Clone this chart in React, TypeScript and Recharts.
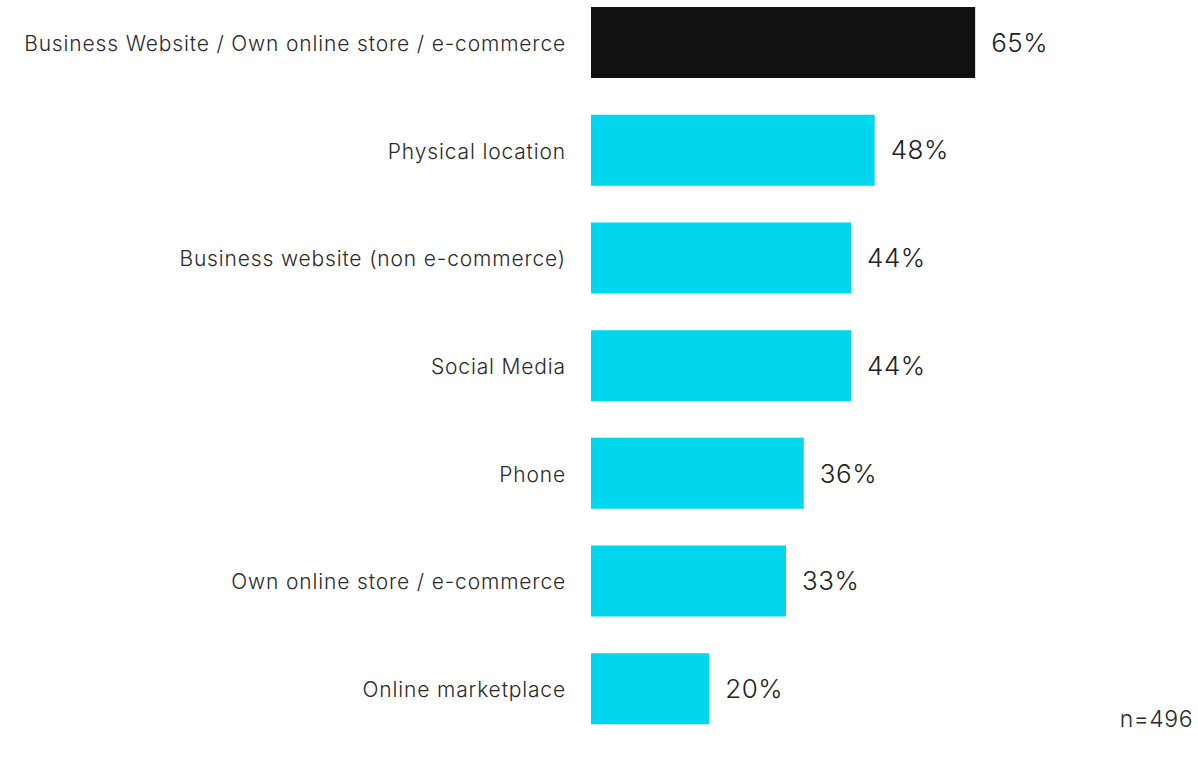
import React from 'react';
import { BarChart, Bar, XAxis, YAxis, Cell, LabelList } from 'recharts';

const channels = [
  'Business Website / Own online store / e-commerce',
  'Physical location',
  'Business website (non e-commerce)',
  'Social Media',
  'Phone',
  'Own online store / e-commerce',
  'Online marketplace',
];
const shares = [65, 48, 44, 44, 36, 33, 20];
const sampleNote = 'n=496';

const data = channels.map((name, i) => ({ name, value: shares[i] }));

const FONT = 'Inter, "Noto Sans", sans-serif';

const CategoryTick = (props: any) => {
  const { x, y, payload } = props;
  return (
    <text
      x={x - 17}
      y={y}
      dy={8}
      textAnchor="end"
      fill="#2a2a2a"
      fontSize={21}
      fontWeight={300}
      fontFamily={FONT}
      letterSpacing={0.85}
    >
      {payload.value}
    </text>
  );
};

export default function App() {
  return (
    <div style={{ position: 'absolute', left: 0, top: 0, width: 1198, height: 758, background: '#fff' }}>
      <BarChart
        width={1198}
        height={758}
        data={data}
        layout="vertical"
        margin={{ top: -11, right: 16, bottom: 15, left: 0 }}
      >
        <XAxis type="number" domain={[0, 100]} hide />
        <YAxis
          type="category"
          dataKey="name"
          width={591}
          axisLine={false}
          tickLine={false}
          tick={<CategoryTick />}
          interval={0}
        />
        <Bar dataKey="value" barSize={71} isAnimationActive={false}>
          {data.map((_, i) => (
            <Cell key={`cell-${i}`} fill={i === 0 ? '#111111' : '#00d7ee'} />
          ))}
          <LabelList
            dataKey="value"
            position="right"
            offset={16}
            formatter={(v: any) => `${v}%`}
            fill="#222"
            fontSize={26}
            fontWeight={300}
            fontFamily={FONT}
            letterSpacing={0.5}
          />
        </Bar>
      </BarChart>
      <div
        style={{
          position: 'absolute',
          right: 5,
          top: 705,
          fontFamily: FONT,
          fontSize: 23,
          fontWeight: 300,
          letterSpacing: 0.5,
          color: '#2a2a2a',
        }}
      >
        {sampleNote}
      </div>
    </div>
  );
}
